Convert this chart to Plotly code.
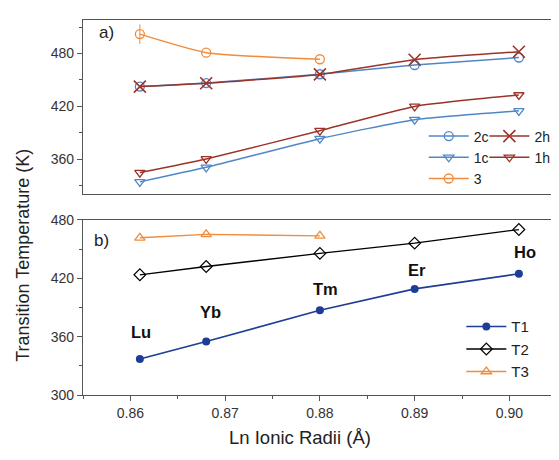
import plotly.graph_objects as go

# Ln ionic radii (Å) for Lu, Yb, Tm, Er, Ho
radii = [0.861, 0.868, 0.880, 0.890, 0.901]
elements = ["Lu", "Yb", "Tm", "Er", "Ho"]

# Panel a)
s2c = [442.5, 446.5, 456.5, 467.0, 475.5]
s2h = [442.5, 446.3, 456.3, 473.0, 482.0]
s1c = [334.5, 351.0, 383.5, 405.0, 415.0]
s1h = [345.0, 360.5, 392.5, 420.0, 433.0]
s3 = [502.0, 481.0, 473.5]
s3_err = [11, 0, 0]

# Panel b)
T1 = [337.0, 355.0, 387.0, 409.0, 424.5]
T2 = [423.5, 432.0, 445.5, 456.0, 470.0]
T3 = [461.5, 465.0, 463.5]

BLUE = "#4f87c6"
RED = "#9c3328"
ORANGE = "#f08c3c"
NAVY = "#1e3d96"

fig = go.Figure()

def add(x, y, name, color, symbol, size, xa, ya, legend, err=None, lw=1.5, mlw=1.3):
    fig.add_trace(go.Scatter(
        x=x, y=y, name=name, mode="lines+markers",
        line=dict(color=color, width=lw, shape="spline", smoothing=0.5),
        marker=dict(symbol=symbol, size=size, color=color,
                    line=dict(color=color, width=mlw)),
        error_y=(dict(type="data", array=err, color=color, thickness=1, width=0, visible=True)
                 if err else None),
        xaxis=xa, yaxis=ya, legend=legend,
    ))

# Top panel traces (xaxis2 / yaxis2)
add(radii, s2c, "2c", BLUE, "circle-open", 9, "x2", "y2", "legend")
add(radii, s1c, "1c", BLUE, "triangle-down-open", 9, "x2", "y2", "legend")
add(radii[:3], s3, "3", ORANGE, "circle-open", 9, "x2", "y2", "legend", err=s3_err)
add(radii, s2h, "2h", RED, "x-thin-open", 12, "x2", "y2", "legend3", mlw=1.6)
add(radii, s1h, "1h", RED, "triangle-down-open", 9, "x2", "y2", "legend3")

# Bottom panel traces
fig.add_trace(go.Scatter(
    x=radii, y=T1, name="T1", mode="lines+markers",
    line=dict(color=NAVY, width=1.6),
    marker=dict(symbol="circle", size=8, color=NAVY),
    xaxis="x", yaxis="y", legend="legend2"))
fig.add_trace(go.Scatter(
    x=radii, y=T2, name="T2", mode="lines+markers",
    line=dict(color="black", width=1.3),
    marker=dict(symbol="diamond-open", size=9, color="black", line=dict(width=1.2, color="black")),
    xaxis="x", yaxis="y", legend="legend2"))
fig.add_trace(go.Scatter(
    x=radii[:3], y=T3, name="T3", mode="lines+markers",
    line=dict(color=ORANGE, width=1.4),
    marker=dict(symbol="triangle-up-open", size=9, color=ORANGE, line=dict(width=1.3, color=ORANGE)),
    xaxis="x", yaxis="y", legend="legend2"))

FONT = "Liberation Sans, Arial, sans-serif"
TICKF = dict(family=FONT, size=14, color="#333")
AXC = "#555"

xcommon = dict(range=[0.855, 0.9046], showline=True, linecolor=AXC, linewidth=1.2,
               mirror=True, showgrid=False, zeroline=False)
ycommon = dict(showline=True, linecolor=AXC, linewidth=1.2, mirror=True,
               showgrid=False, zeroline=False, ticks="outside", ticklen=5,
               tickcolor=AXC, tickfont=TICKF,
               minor=dict(ticks="outside", ticklen=3, tickcolor=AXC, dtick=30))

labels_y = [364.5, 385.0, 409.0, 428.0, 446.5]
labels_dx = [1, 4, 6, 2, 6]
annotations = [
    dict(text="a)", x=0.8565, y=504, xref="x2", yref="y2", showarrow=False,
         font=dict(family=FONT, size=17, color="#222"), xanchor="left"),
    dict(text="b)", x=0.856, y=459, xref="x", yref="y", showarrow=False,
         font=dict(family=FONT, size=17, color="#222"), xanchor="left"),
    dict(text="Transition Temperature (K)", x=-0.129, y=0.372, xref="paper", yref="paper",
         textangle=-90, showarrow=False, xanchor="center", yanchor="middle",
         font=dict(family=FONT, size=18, color="#222")),
    dict(text="Ln Ionic Radii (Å)", x=0.462, y=-0.113, xref="paper", yref="paper",
         showarrow=False, xanchor="center", yanchor="middle",
         font=dict(family=FONT, size=18.5, color="#222")),
]
for el, xv, yv, dx in zip(elements, radii, labels_y, labels_dx):
    annotations.append(dict(text=f"<b>{el}</b>", x=xv, y=yv, xref="x", yref="y", xshift=dx,
                            showarrow=False, font=dict(family=FONT, size=16.5, color="#111")))

legfont_a = dict(family=FONT, size=14, color="#222")
legfont_b = dict(family=FONT, size=15, color="#222")
fig.update_layout(
    width=551, height=452,
    margin=dict(l=75, r=4, t=6, b=65),
    paper_bgcolor="white", plot_bgcolor="white",
    font=dict(family=FONT),
    xaxis=dict(**xcommon, domain=[0, 1], anchor="y", ticks="outside", ticklen=5,
               tickcolor=AXC, tickvals=[0.86, 0.87, 0.88, 0.89, 0.90],
               ticktext=["0.86", "0.87", "0.88", "0.89", "0.90"], tickfont=TICKF,
               minor=dict(ticks="outside", ticklen=3, tickcolor=AXC, dtick=0.005)),
    xaxis2=dict(**xcommon, domain=[0, 1], anchor="y2", showticklabels=False, ticks=""),
    yaxis=dict(**ycommon, domain=[0, 0.4672], anchor="x", range=[300, 480],
               tickvals=[300, 360, 420, 480]),
    yaxis2=dict(**ycommon, domain=[0.5354, 1], anchor="x2", range=[320.5, 518],
                tickvals=[360, 420, 480]),
    legend=dict(x=0.725, y=0.732, xanchor="left", yanchor="top", bgcolor="rgba(0,0,0,0)",
                font=legfont_a, itemwidth=40, tracegroupgap=0, traceorder="normal"),
    legend3=dict(x=0.854, y=0.732, xanchor="left", yanchor="top", bgcolor="rgba(0,0,0,0)",
                 font=legfont_a, itemwidth=40, tracegroupgap=0, traceorder="normal"),
    legend2=dict(x=0.805, y=0.226, xanchor="left", yanchor="top", bgcolor="rgba(0,0,0,0)",
                 font=legfont_b, itemwidth=40, tracegroupgap=0, traceorder="normal"),
    annotations=annotations,
)

fig.write_html("out.html")
